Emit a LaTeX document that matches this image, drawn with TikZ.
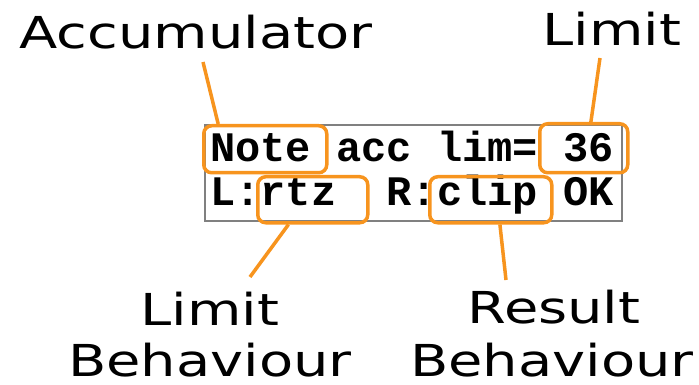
\documentclass[tikz,border=0pt]{standalone}
\usepackage{fontspec}
\setmainfont{DejaVu Sans}
\newfontfamily\lblfont[FakeStretch=1.27]{DejaVu Sans}
\newfontfamily\monob{Liberation Mono}
\usetikzlibrary{calc}
\definecolor{orangeC}{RGB}{247,148,30}
\definecolor{grayC}{RGB}{128,128,128}
\tikzset{
  lbl/.style={inner sep=0pt, anchor=base, text depth=0pt, font=\lblfont\fontsize{44}{50}\selectfont},
  monorow/.style={inner sep=0pt, anchor=base west, font=\monob\bfseries\fontsize{42}{48}\selectfont},
  obox/.style={draw=orangeC, line width=3.5pt, rounded corners=8pt, inner sep=0pt, anchor=north west},
  lead/.style={draw=orangeC, line width=3.5pt},
  panel/.style={draw=grayC, line width=1.3pt}
}
\begin{document}
\begin{tikzpicture}[x=1pt,y=-1pt]
\useasboundingbox (0,0) rectangle (699,385);
% gray display panel
\draw[panel] (205,125) rectangle (622,221);
% display text
\node[monorow] (row1) at (210,162) {Note acc lim=~36};
\node[monorow] (row2) at (210,205) {L:rtz~~R:clip~OK};
% orange highlight boxes
\node[obox, minimum width=123pt, minimum height=47pt] (notebox) at (202,124) {};
\node[obox, minimum width=88pt, minimum height=49pt] (limbox) at (538,122) {};
\node[obox, minimum width=110pt, minimum height=46pt] (rtzbox) at (256,175) {};
\node[obox, minimum width=122pt, minimum height=46pt] (clipbox) at (428,175) {};
% labels
\node[lbl] (acclbl) at (196,49) {Accumulator};
\node[lbl] (limlbl) at (612,46) {Limit};
\node[lbl] (limblbl) at (210,325) {Limit};
\node[lbl] (limblblb) at (210,376) {Behaviour};
\node[lbl] (reslbl) at (554,323) {Result};
\node[lbl] (reslblb) at (552,376) {Behaviour};
% connector end points near labels
\coordinate (accA) at (203,62);
\coordinate (limA) at (600,58);
\coordinate (limbA) at (250,277);
\coordinate (resA) at (506,280);
% connectors
\draw[lead] (accA) -- ($(notebox.north west)!0.128!(notebox.north east)$);
\draw[lead] (limA) -- ($(limbox.north west)!0.578!(limbox.north east)$);
\draw[lead] ($(rtzbox.south west)!0.286!(rtzbox.south east)$) -- (limbA);
\draw[lead] ($(clipbox.south west)!0.573!(clipbox.south east)$) -- (resA);
\end{tikzpicture}
\end{document}
